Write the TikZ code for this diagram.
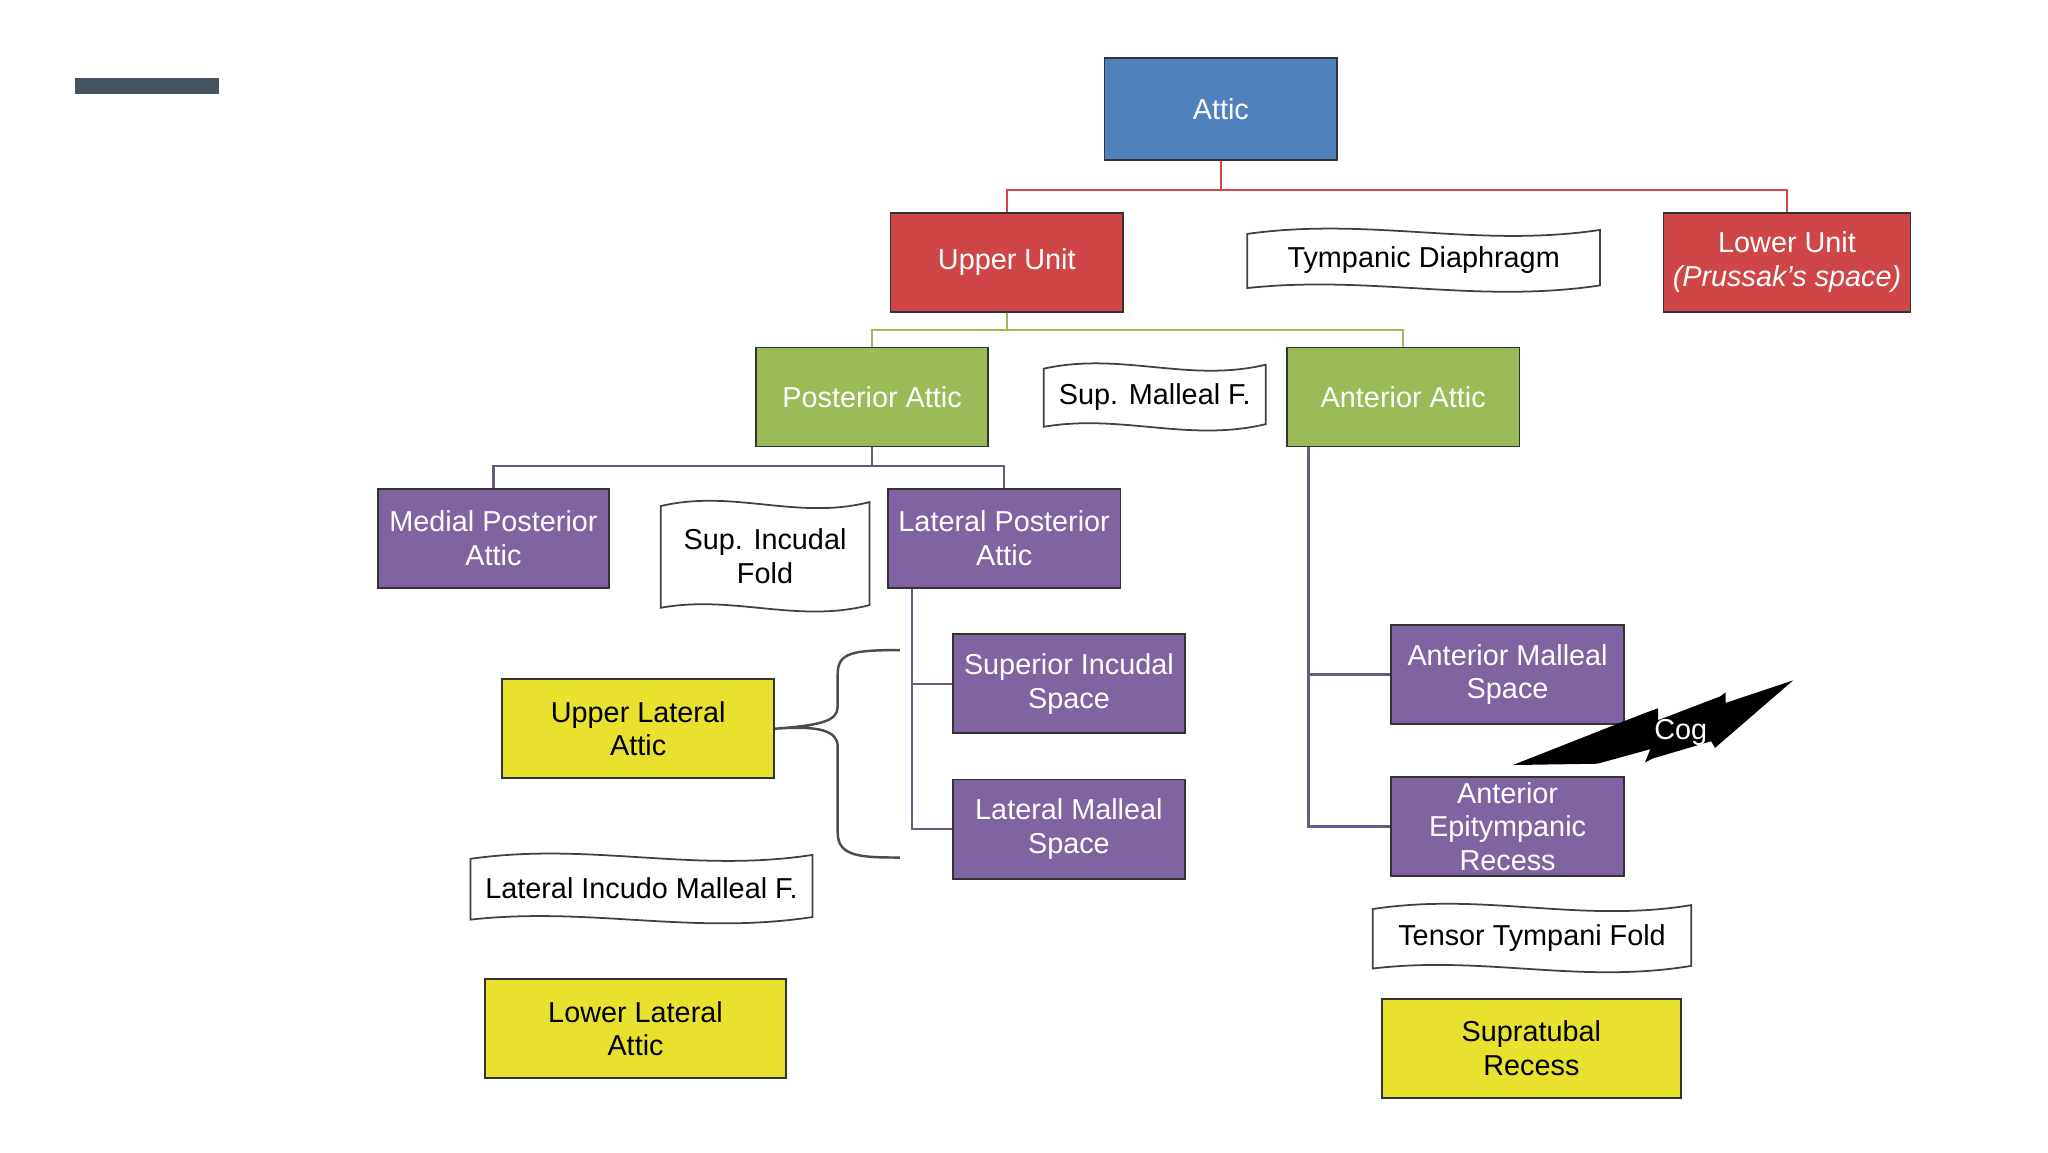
\documentclass[tikz,border=0pt]{standalone}
\usepackage{fontspec}
\setmainfont{Liberation Sans}
\definecolor{cblue}{HTML}{4F81BD}
\definecolor{cred}{HTML}{CF4646}
\definecolor{cgreen}{HTML}{9BBB59}
\definecolor{cpurple}{HTML}{8064A2}
\definecolor{cyellow}{HTML}{E8E22E}
\definecolor{cbar}{HTML}{455560}
\definecolor{cline}{HTML}{6A5A80}
\newcommand\bx[7]{\node[box,#6, minimum width={(#4-#2)*0.01321cm}, minimum height={(#5-#3)*0.01321cm}] (#1) at ({(#2+#4)/2},{(#3+#5)/2}) {#7};}
\newcommand\wbox[6]{\draw[wave] (#2,{#3+5}) .. controls ({#2+0.35*(#4-#2)},{#3-8}) and ({#2+0.65*(#4-#2)},{#3+16}) .. (#4,{#3+2}) -- (#4,{#5-4}) .. controls ({#2+0.65*(#4-#2)},{#5+10}) and ({#2+0.35*(#4-#2)},{#5-12}) .. (#2,{#5-2}) -- cycle;
\node[wtext] (#1) at ({(#2+#4)/2},{(#3+#5)/2+1}) {#6};}
\begin{document}
\begin{tikzpicture}[x=0.01321cm,y=-0.01321cm,
  box/.style={draw=black!80,line width=0.5pt,inner sep=0pt,align=center,font=\fontsize{8.2}{9.6}\selectfont,text=white},
  wave/.style={draw=black!75,line width=0.5pt,fill=white},
  wtext/.style={align=center,font=\fontsize{8.2}{9.6}\selectfont,inner sep=0pt},
  yb/.style={fill=cyellow,text=black},
  conn/.style={line width=0.7pt}]
\useasboundingbox (0,0) rectangle (1550,872);
\fill[cbar] (57,59) rectangle (166,71);
\bx{attic}{836}{44}{1012}{121}{fill=cblue}{Attic}
\bx{upper}{674}{161}{850}{236}{fill=cred}{Upper Unit}
\bx{lower}{1259}{161}{1446}{236}{fill=cred}{Lower Unit\\\textit{(Prussak's space)}}
\wbox{tymp}{944}{172}{1211}{220}{Tympanic Diaphragm}
\bx{post}{572}{263}{748}{338}{fill=cgreen}{Posterior Attic}
\wbox{supmal}{790}{274}{958}{325}{Sup. Malleal F.}
\bx{ant}{974}{263}{1150}{338}{fill=cgreen}{Anterior Attic}
\bx{mpa}{286}{370}{461}{445}{fill=cpurple}{Medial Posterior\\Attic}
\wbox{supinc}{500}{378}{658}{462}{Sup. Incudal\\Fold}
\bx{lpa}{672}{370}{848}{445}{fill=cpurple}{Lateral Posterior\\Attic}
\bx{sis}{721}{480}{897}{555}{fill=cpurple}{Superior Incudal\\Space}
\bx{lms}{721}{590}{897}{665}{fill=cpurple}{Lateral Malleal\\Space}
\bx{ams}{1053}{473}{1229}{548}{fill=cpurple}{Anterior Malleal\\Space}
\bx{aer}{1053}{588}{1229}{663}{fill=cpurple}{Anterior\\Epitympanic\\Recess}
\bx{ula}{380}{514}{586}{589}{yb}{Upper Lateral\\Attic}
\wbox{limf}{356}{645}{615}{698}{Lateral Incudo Malleal F.}
\bx{lla}{367}{741}{595}{816}{yb}{Lower Lateral\\Attic}
\wbox{ttf}{1039}{683}{1280}{735}{Tensor Tympani Fold}
\bx{str}{1046}{756}{1272}{831}{yb}{Supratubal\\Recess}
% connectors
\draw[conn,cred] (attic.south) -- ++(0,22) -| (upper.north);
\draw[conn,cred] (attic.south) -- ++(0,22) -| (lower.north);
\draw[conn,cgreen] (upper.south) -- ++(0,13) -| (post.north);
\draw[conn,cgreen] (upper.south) -- ++(0,13) -| (ant.north);
\draw[conn,cline] (post.south) -- ++(0,14) -| (mpa.north);
\draw[conn,cline] (post.south) -- ++(0,14) -| (lpa.north);
\draw[conn,cline] (lpa.south west) ++(19,0) |- (sis.west);
\draw[conn,cline] (lpa.south west) ++(19,0) |- (lms.west);
\draw[conn,cline] (ant.south west) ++(17,0) |- (ams.west);
\draw[conn,cline] (ant.south west) ++(17,0) |- (aer.west);
% brace
\coordinate (bt) at (681,492);
\coordinate (bb) at (681,649);
\draw[line width=0.7pt,black!70] (bt) .. controls (645,492) and (634,494) .. (634,510) -- (634,535) .. controls (634,546) and (620,549) .. (ula.east) .. controls (620,549) and (634,553) .. (634,565) -- (634,630) .. controls (634,648) and (650,649) .. (bb);
% cog
\fill[black] (1145,579) -- (1244,540) -- (1255,536) -- (1255,545) -- (1302,527) -- (1306,524) -- (1306,532) -- (1357,515) -- (1298,566) -- (1295,561) -- (1251,574) -- (1245,577) -- (1249,567) -- (1209,578) -- cycle;
\node[text=white,font=\fontsize{8.2}{9.6}\selectfont,inner sep=0pt] (cog) at (1272,554) {Cog};
\end{tikzpicture}
\end{document}
